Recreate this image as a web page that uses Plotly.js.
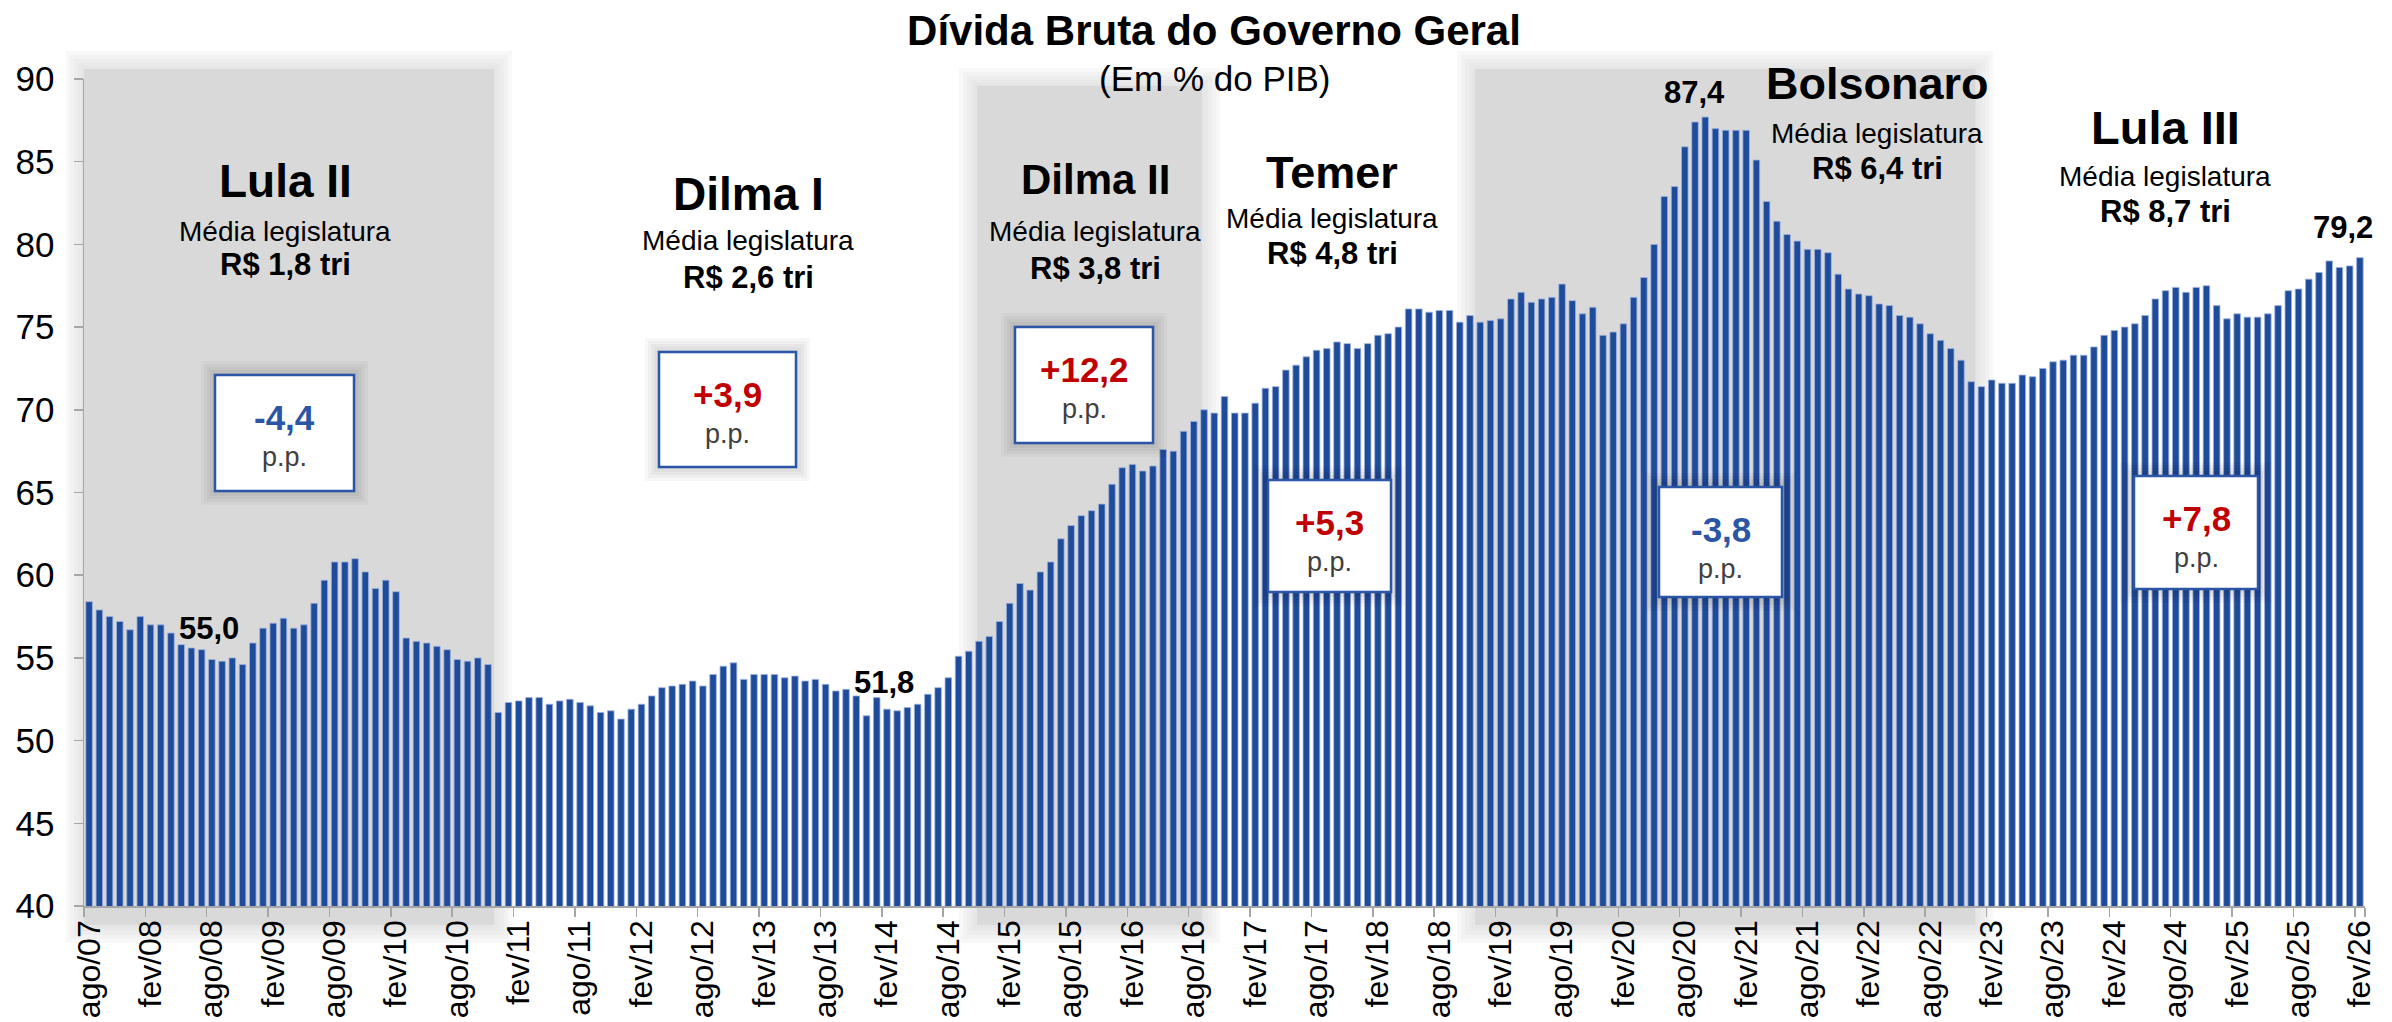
<!DOCTYPE html>
<html>
<head>
<meta charset="utf-8">
<script src="https://cdn.plot.ly/plotly-3.0.1.min.js"></script>
<style>
  html, body { margin: 0; padding: 0; background: #ffffff; }
  #chart { width: 2392px; height: 1022px; }
</style>
</head>
<body>
<div id="chart"></div>
<script>
// ---------------- DATA ----------------
// Dívida Bruta do Governo Geral (% do PIB), mensal, ago/07 a fev/26
const meses = ['jan','fev','mar','abr','mai','jun','jul','ago','set','out','nov','dez'];
const inicioMes = 7;      // ago (índice 0-based)
const inicioAno = 2007;

const divida = [
  58.4, 57.9, 57.5, 57.2, 56.7, 57.5, 57.0, 57.0, 56.5, 55.8,
  55.6, 55.5, 54.9, 54.8, 55.0, 54.6, 55.9, 56.8, 57.1, 57.4,
  56.8, 57.0, 58.3, 59.7, 60.8, 60.8, 61.0, 60.2, 59.2, 59.7,
  59.0, 56.2, 56.0, 55.9, 55.7, 55.5, 54.9, 54.8, 55.0, 54.6,
  51.7, 52.3, 52.4, 52.6, 52.6, 52.2, 52.4, 52.5, 52.3, 52.1,
  51.7, 51.8, 51.3, 51.9, 52.2, 52.7, 53.2, 53.3, 53.4, 53.6,
  53.3, 54.0, 54.5, 54.7, 53.7, 54.0, 54.0, 54.0, 53.8, 53.9,
  53.6, 53.7, 53.4, 53.0, 53.1, 52.7, 51.5, 52.6, 51.9, 51.8,
  52.0, 52.2, 52.8, 53.2, 53.8, 55.1, 55.4, 56.0, 56.3, 57.2,
  58.3, 59.5, 59.1, 60.2, 60.8, 62.2, 63.0, 63.6, 63.9, 64.3,
  65.5, 66.5, 66.7, 66.3, 66.6, 67.6, 67.5, 68.7, 69.3, 70.0,
  69.8, 70.8, 69.8, 69.8, 70.4, 71.3, 71.4, 72.4, 72.7, 73.2,
  73.6, 73.7, 74.1, 74.0, 73.7, 74.0, 74.5, 74.6, 75.0, 76.1,
  76.1, 75.9, 76.0, 76.0, 75.3, 75.7, 75.3, 75.4, 75.5, 76.7,
  77.1, 76.5, 76.7, 76.8, 77.6, 76.6, 75.8, 76.2, 74.5, 74.7,
  75.2, 76.8, 78.0, 80.0, 82.9, 83.5, 85.9, 87.4, 87.7, 87.0,
  86.9, 86.9, 86.9, 85.1, 82.6, 81.4, 80.6, 80.2, 79.7, 79.7,
  79.5, 78.2, 77.3, 77.0, 76.9, 76.4, 76.3, 75.7, 75.6, 75.2,
  74.6, 74.2, 73.7, 73.0, 71.7, 71.4, 71.8, 71.6, 71.6, 72.1,
  72.0, 72.5, 72.9, 73.0, 73.3, 73.3, 73.8, 74.5, 74.8, 75.0,
  75.2, 75.7, 76.7, 77.2, 77.4, 77.1, 77.4, 77.5, 76.3, 75.5,
  75.8, 75.6, 75.6, 75.8, 76.3, 77.2, 77.3, 77.9, 78.3, 79.0,
  78.6, 78.7, 79.2
];

// categorias (meses) ago/07 ... fev/26
const categorias = divida.map((_, i) => {
  const m = inicioMes + i;
  const ano = inicioAno + Math.floor(m / 12);
  return meses[m % 12] + '/' + String(ano).slice(2);
});
const rotulosEixo = categorias.filter((_, i) => i % 6 === 0);

// governos
const governos   = ['Lula II', 'Dilma I', 'Dilma II', 'Temer', 'Bolsonaro', 'Lula III'];
const mediaLeg   = ['R$ 1,8 tri', 'R$ 2,6 tri', 'R$ 3,8 tri', 'R$ 4,8 tri', 'R$ 6,4 tri', 'R$ 8,7 tri'];
const variacaoPP = ['-4,4', '+3,9', '+12,2', '+5,3', '-3,8', '+7,8'];

// destaques de valores
const destaquesTexto = ['55,0', '51,8', '87,4', '79,2'];

// ---------------- LAYOUT HELPERS ----------------
const FW = 2392, FH = 1022;
const M = { l: 84, r: 27, t: 79, b: 116 };
const PW = FW - M.l - M.r, PH = FH - M.t - M.b;
const N = divida.length;
const px2x = x => (x - M.l) / PW;
const px2y = y => (FH - M.b - y) / PH;
const idx2px = i => M.l + (i + 0.5) * PW / N;

const FONT = '"Liberation Sans", Arial, "DejaVu Sans", sans-serif';
const BLUE = '#1F4B9B';
const BOXBLUE = '#2B55A5';
const RED = '#C00000';

const shapes = [];
const annotations = [];

// shaded government periods (indices in categories, top px)
const faixas = [
  { i0: -0.5, i1: 39.6, top: 69 },
  { i0: 86.8, i1: 108.8, top: 86 },
  { i0: 135.5, i1: 184.4, top: 69 }
];
const faixaBottom = 925;
faixas.forEach(f => {
  const x0 = idx2px(f.i0), x1 = idx2px(f.i1);
  [18, 14, 10, 6, 3].forEach(e => {
    shapes.push({ type: 'rect', xref: 'paper', yref: 'paper', layer: 'below',
      x0: px2x(x0 - e), x1: px2x(x1 + e), y0: px2y(faixaBottom + e), y1: px2y(f.top - e),
      fillcolor: 'rgba(217,217,217,0.18)', line: { width: 0 } });
  });
  shapes.push({ type: 'rect', xref: 'paper', yref: 'paper', layer: 'below',
    x0: px2x(x0), x1: px2x(x1), y0: px2y(faixaBottom), y1: px2y(f.top),
    fillcolor: '#D9D9D9', line: { width: 0 } });
});

// text blocks per government: [cx, titleY, mediaY, rsY, titleSize]
const blocos = [
  [285, 181, 231, 265, 46],
  [748, 194, 240, 277, 46],
  [1095, 180, 232, 268, 42],
  [1332, 172, 218, 253, 45],
  [1877, 84, 134, 169, 45],
  [2165, 127, 176, 211, 47]
];
// boxes [x0, x1, y0, y1]
const caixas = [
  [215, 354, 375, 491],
  [659, 796, 352, 467],
  [1015, 1153, 327, 443],
  [1268, 1391, 480, 592],
  [1659, 1782, 487, 597],
  [2134, 2258, 476, 589]
];

function ann(x, y, text, size, color, extra) {
  annotations.push(Object.assign({
    xref: 'paper', yref: 'paper', x: px2x(x), y: px2y(y), text: text,
    showarrow: false, xanchor: 'center', yanchor: 'middle',
    font: { family: FONT, size: size, color: color || '#000000' }
  }, extra || {}));
}

governos.forEach((g, k) => {
  const b = blocos[k];
  ann(b[0], b[1], '<b>' + g + '</b>', b[4]);
  ann(b[0], b[2], 'Média legislatura', 28);
  ann(b[0], b[3], '<b>' + mediaLeg[k] + '</b>', 31);

  const c = caixas[k];
  [14, 11, 8, 5, 2].forEach(e => {
    shapes.push({ type: 'rect', xref: 'paper', yref: 'paper', layer: 'above',
      x0: px2x(c[0] - e), x1: px2x(c[1] + e), y0: px2y(c[3] + e), y1: px2y(c[2] - e),
      fillcolor: 'rgba(0,0,0,0.03)', line: { width: 0 } });
  });
  shapes.push({ type: 'rect', xref: 'paper', yref: 'paper', layer: 'above',
    x0: px2x(c[0]), x1: px2x(c[1]), y0: px2y(c[3]), y1: px2y(c[2]),
    fillcolor: '#FFFFFF', line: { color: BOXBLUE, width: 2.5 } });
  const v = variacaoPP[k];
  const cx = (c[0] + c[1]) / 2;
  ann(cx, c[2] + 42, '<b>' + v + '</b>', 35, v.charAt(0) === '-' ? BOXBLUE : RED);
  ann(cx, c[2] + 82, 'p.p.', 27, '#404040');
});

// value highlights [cx, cy]
const destaquesPos = [[209, 628], [884, 682], [1694, 92], [2343, 227]];
destaquesTexto.forEach((t, k) => {
  ann(destaquesPos[k][0], destaquesPos[k][1], '<b>' + t + '</b>', 31);
});

// subtitle
ann(1214, 78, '(Em % do PIB)', 35);

const trace = {
  type: 'bar',
  x: categorias,
  y: divida,
  marker: { color: BLUE, line: { color: '#9DB2DD', width: 0.8 } },
  hoverinfo: 'x+y'
};

const layout = {
  width: FW, height: FH,
  margin: M,
  paper_bgcolor: '#FFFFFF',
  plot_bgcolor: 'rgba(0,0,0,0)',
  showlegend: false,
  bargap: 0.36,
  font: { family: FONT, color: '#000000' },
  title: {
    text: '<b>Dívida Bruta do Governo Geral</b>',
    font: { family: FONT, size: 42, color: '#000000' },
    x: 1214 / FW, xanchor: 'center', xref: 'container',
    y: 1 - 30 / FH, yanchor: 'middle', yref: 'container'
  },
  xaxis: {
    type: 'category',
    range: [-0.5, N - 0.5],
    tickmode: 'array',
    tickvals: rotulosEixo,
    ticktext: rotulosEixo,
    tickson: 'boundaries',
    tickangle: -90,
    ticks: 'outside', ticklen: 9, tickwidth: 1.5, tickcolor: '#A6A6A6',
    showline: true, linecolor: '#A6A6A6', linewidth: 1.5,
    showgrid: false, zeroline: false,
    tickfont: { family: FONT, size: 32, color: '#000000' },
    fixedrange: true
  },
  yaxis: {
    range: [40, 90],
    tickmode: 'linear', tick0: 40, dtick: 5,
    ticks: 'outside', ticklen: 9, tickwidth: 1.5, tickcolor: '#A6A6A6',
    showline: true, linecolor: '#A6A6A6', linewidth: 1.5,
    showgrid: false, zeroline: false,
    ticklabelstandoff: 12,
    tickfont: { family: FONT, size: 35, color: '#000000' },
    fixedrange: true
  },
  shapes: shapes,
  annotations: annotations
};

Plotly.newPlot('chart', [trace], layout, { displayModeBar: false, staticPlot: true });
</script>
</body>
</html>
